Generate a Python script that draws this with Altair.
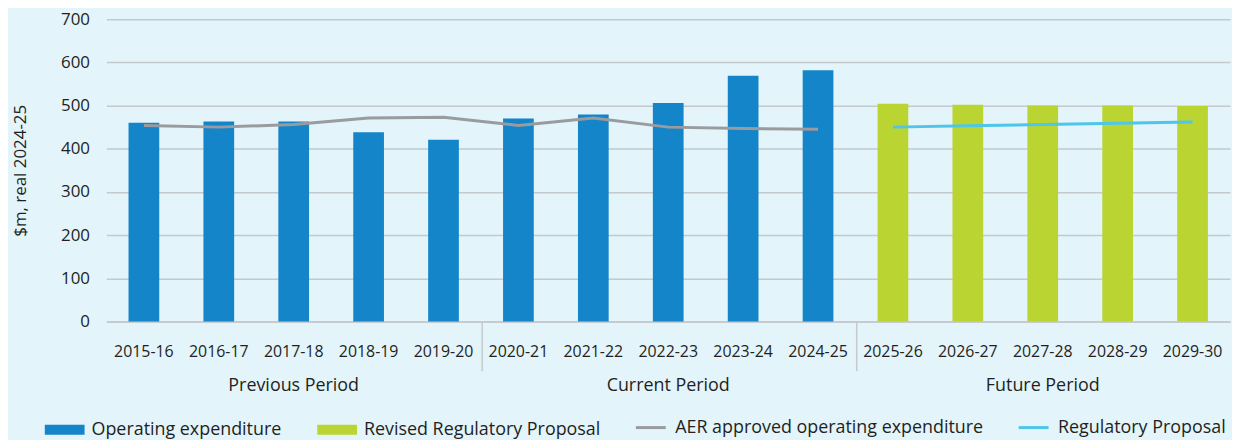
import altair as alt
import pandas as pd

years = ["2015-16", "2016-17", "2017-18", "2018-19", "2019-20",
         "2020-21", "2021-22", "2022-23", "2023-24", "2024-25",
         "2025-26", "2026-27", "2027-28", "2028-29", "2029-30"]

opex_years = years[:10]
opex_values = [460, 463, 463, 438, 421, 470, 479, 506, 569, 582]

revised_years = years[10:]
revised_values = [504, 502, 500, 500, 499]

aer_years = years[:10]
aer_values = [454, 450, 456, 471, 473, 454, 471, 450, 447, 445]

reg_years = years[10:]
reg_values = [450, 453, 456, 459, 462]

periods = ["Previous Period", "Current Period", "Future Period"]
period_centers = ["2017-18", "2022-23", "2027-28"]
separator_years = ["2020-21", "2025-26"]

bar_series = ["Operating expenditure", "Revised Regulatory Proposal"]
bar_colors = ["#1385C8", "#BAD532"]
line_series = ["AER approved operating expenditure", "Regulatory Proposal"]
line_colors = ["#9A9B9F", "#4DC6E9"]

FONT = "Open Sans"
TEXT = "#231F20"
GRID = "#C4C9CC"

bars_df = pd.DataFrame(
    {"year": opex_years + revised_years,
     "value": opex_values + revised_values,
     "series": [bar_series[0]] * len(opex_years) + [bar_series[1]] * len(revised_years)}
)
lines_df = pd.DataFrame(
    {"year": aer_years + reg_years,
     "value": aer_values + reg_values,
     "line": [line_series[0]] * len(aer_years) + [line_series[1]] * len(reg_years)}
)
period_df = pd.DataFrame({"year": period_centers, "label": periods})
sep_df = pd.DataFrame({"year": separator_years})

xscale = alt.Scale(domain=years, paddingInner=0.59, paddingOuter=0.295)
yscale = alt.Scale(domain=[0, 700], nice=False)

x_axis = alt.Axis(
    title=None, labelAngle=0, ticks=False, labelPadding=22,
    labelFont=FONT, labelFontSize=16, labelColor=TEXT,
    domainColor=GRID, domainWidth=1.5, grid=False,
)
y_axis = alt.Axis(
    title="$m, real 2024-25", values=list(range(0, 701, 100)),
    ticks=False, domain=False, labelPadding=17,
    labelFont=FONT, labelFontSize=17, labelColor=TEXT,
    gridColor=GRID, gridWidth=1.5,
    titleFont=FONT, titleFontSize=17, titleFontWeight="normal", titleColor=TEXT,
    titleAngle=270, titleX=-86, titleY=152, titleAlign="center", titleBaseline="middle",
)

bars = alt.Chart(bars_df).mark_bar().encode(
    x=alt.X("year:N", scale=xscale, axis=x_axis, sort=years),
    y=alt.Y("value:Q", scale=yscale, axis=y_axis),
    color=alt.Color(
        "series:N",
        scale=alt.Scale(domain=bar_series, range=bar_colors),
        legend=alt.Legend(
            title=None, orient="none", direction="horizontal",
            legendX=-62, legendY=393, padding=0,
            symbolType="M-1,-0.25H1V0.25H-1Z", symbolSize=1600, symbolStrokeWidth=0,
            labelFont=FONT, labelFontSize=18, labelColor=TEXT, labelLimit=600,
            labelOffset=7, columnPadding=35,
        ),
    ),
)

lines = alt.Chart(lines_df).mark_line(strokeWidth=3).encode(
    x=alt.X("year:N", scale=xscale, sort=years),
    y=alt.Y("value:Q", scale=yscale),
    stroke=alt.Stroke(
        "line:N",
        scale=alt.Scale(domain=line_series, range=line_colors),
        legend=alt.Legend(
            title=None, orient="none", direction="horizontal",
            legendX=531, legendY=394, padding=0,
            symbolType="stroke", symbolSize=900, symbolStrokeWidth=3,
            labelFont=FONT, labelFontSize=18, labelColor=TEXT, labelLimit=600,
            labelOffset=8, columnPadding=28,
        ),
    ),
)

period_text = alt.Chart(period_df).mark_text(
    font=FONT, fontSize=18, color=TEXT, baseline="middle", align="center"
).encode(
    x=alt.X("year:N", scale=xscale, sort=years),
    y=alt.value(369),
    text="label:N",
)

separators = alt.Chart(sep_df).mark_rule(color=GRID, strokeWidth=1.5).encode(
    x=alt.X("year:N", scale=xscale, sort=years),
    xOffset=alt.value(-21),
    y=alt.value(304),
    y2=alt.value(354),
)

chart = alt.layer(bars, lines, separators, period_text).resolve_legend(
    color="independent", stroke="independent"
).properties(
    width=1130, height=304,
    autosize=alt.AutoSizeParams(type="none"),
    padding={"left": 99, "top": 10, "right": 2, "bottom": 118},
).configure(
    background="#E3F4FB",
).configure_view(stroke=None)

chart.save("out.html", embed_options={"renderer": "svg", "actions": False})
